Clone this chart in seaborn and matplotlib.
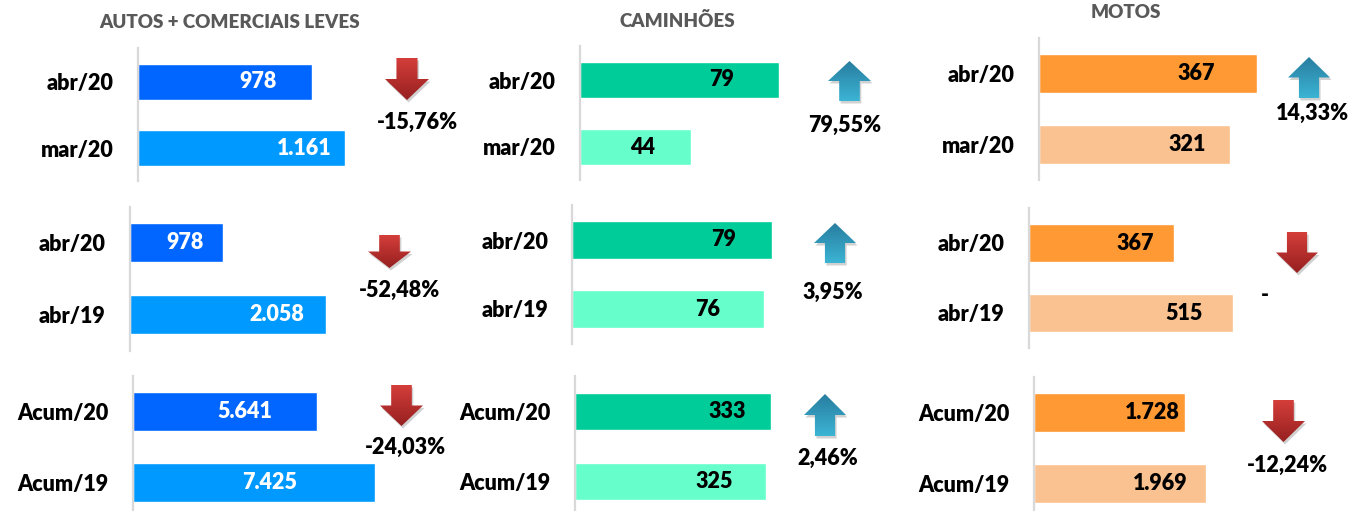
import matplotlib
matplotlib.use("Agg")
import matplotlib.pyplot as plt
import numpy as np
import pandas as pd
import seaborn as sns
from matplotlib.patches import Polygon

# ---------------- data ----------------
groups = ["AUTOS + COMERCIAIS LEVES", "CAMINHÕES", "MOTOS"]
row_labels = [["abr/20", "mar/20"], ["abr/20", "abr/19"], ["Acum/20", "Acum/19"]]
autos_vals = [[978, 1161], [978, 2058], [5641, 7425]]
caminhoes_vals = [[79, 44], [79, 76], [333, 325]]
motos_vals = [[367, 321], [367, 515], [1728, 1969]]
autos_pct = ["-15,76%", "-52,48%", "-24,03%"]
caminhoes_pct = ["79,55%", "3,95%", "2,46%"]
motos_pct = ["14,33%", "-", "-12,24%"]

values = [autos_vals, caminhoes_vals, motos_vals]
pcts = [autos_pct, caminhoes_pct, motos_pct]

# ---------------- style / layout ----------------
W, H = 1351, 511
FONT = ["Lato", "DejaVu Sans"]
WEIGHT = 800
palettes = [["#0066FF", "#0099FF"], ["#00CC99", "#66FFCC"], ["#FF9933", "#F9C290"]]
value_colors = ["white", "black", "black"]

# panel rect in pixels: left(axis line), top, right(end of longest bar), bottom  [row][col]
panel_px = [
    [(137.5, 48.3, 345, 181.3), (579.5, 46.5, 779, 180.5), (1038.5, 38, 1257, 180)],
    [(129.5, 206.5, 326, 350.5), (572, 205.5, 772, 343.5), (1028.5, 208, 1233, 348)],
    [(132.5, 376, 375, 518), (574.5, 376.5, 771, 516.5), (1033.5, 377, 1206, 519)],
]
# distance (px) from bar end to value-label centre
label_off = [
    [(54, 41), (57, 48), (61, 42)],
    [(38, 49), (48, 57), (39, 49)],
    [(72, 105), (44, 52), (33, 46)],
]
# arrow: centre x, top y, width, height ; percentage text centre
arrow_px = [
    [(407, 58, 44, 42), (849.5, 61, 43, 40), (1309, 57, 42, 41)],
    [(389.5, 235, 43, 33), (835, 223, 42, 40), (1297, 232, 42, 41)],
    [(401.5, 385, 43, 41), (825, 394, 42, 42), (1283.5, 400, 43, 42)],
]
pct_px = [
    [(417, 122), (845, 125), (1312, 113)],
    [(400, 290), (833, 292), (1265, 295)],
    [(405, 447), (828, 458), (1287, 465)],
]
title_px = [(230, 23), (677, 21), (1126, 12)]

sns.set_theme(style="white")
plt.rcParams["font.family"] = FONT

fig = plt.figure(figsize=(W / 100, H / 100), dpi=100)
PX = 72 / 100  # points per pixel

for r in range(3):
    for c in range(3):
        l, t, rr, b = panel_px[r][c]
        ax = fig.add_axes([l / W, 1 - b / H, (rr - l) / W, (b - t) / H])
        vals = values[c][r]
        labs = row_labels[r]
        df = pd.DataFrame({"cat": labs, "val": vals})
        sns.barplot(data=df, x="val", y="cat", hue="cat", palette=palettes[c],
                    orient="h", width=0.54, legend=False, ax=ax, saturation=1)
        ax.set_xlim(0, max(vals))
        ax.set_ylim(1.5, -0.5)
        ax.set_xlabel("")
        ax.set_ylabel("")
        ax.set_xticks([])
        ax.patch.set_alpha(0)
        for s in ["top", "right", "bottom"]:
            ax.spines[s].set_visible(False)
        ax.spines["left"].set_color("#D9D9D9")
        ax.spines["left"].set_linewidth(1.6)
        ax.tick_params(axis="y", length=0, pad=24 * PX)
        for tl in ax.get_yticklabels():
            tl.set_fontsize(15.5)
            tl.set_fontweight(WEIGHT)
            tl.set_color("black")
        # value labels
        px_per_unit = (rr - l) / max(vals)
        for i, v in enumerate(vals):
            x = v - label_off[r][c][i] / px_per_unit
            ax.text(x, i, f"{v:,}".replace(",", "."), ha="center", va="center",
                    fontsize=15.5, fontweight=WEIGHT, color=value_colors[c])

# overlay for arrows, percentages, titles
ov = fig.add_axes([0, 0, 1, 1], zorder=10)
ov.set_xlim(0, W)
ov.set_ylim(H, 0)
ov.axis("off")
ov.patch.set_alpha(0)


def draw_arrow(ax, cx, top, w, h, up):
    sw = w * 0.48
    hl = h * 0.5
    if up:
        pts = [(cx, top), (cx + w / 2, top + hl), (cx + sw / 2, top + hl), (cx + sw / 2, top + h),
               (cx - sw / 2, top + h), (cx - sw / 2, top + hl), (cx - w / 2, top + hl)]
        c_top, c_bot = np.array([40, 125, 160]), np.array([60, 180, 212])
    else:
        pts = [(cx - sw / 2, top), (cx + sw / 2, top), (cx + sw / 2, top + h - hl), (cx + w / 2, top + h - hl),
               (cx, top + h), (cx - w / 2, top + h - hl), (cx - sw / 2, top + h - hl)]
        c_top, c_bot = np.array([212, 62, 58]), np.array([150, 32, 32])
    sh = Polygon([(x + 1.5, y + 2.5) for x, y in pts], closed=True, fc="#000000",
                 alpha=0.18, ec="none")
    ax.add_patch(sh)
    poly = Polygon(pts, closed=True, fc="none", ec="none")
    ax.add_patch(poly)
    n = 64
    t = np.linspace(0, 1, n)[:, None]
    grad = (c_top[None, :] * (1 - t) + c_bot[None, :] * t) / 255.0
    img = np.repeat(grad[:, None, :], 2, axis=1)
    im = ax.imshow(img, extent=(cx - w / 2, cx + w / 2, top + h, top), aspect="auto",
                   interpolation="bilinear", zorder=2)
    im.set_clip_path(poly)


for r in range(3):
    for c in range(3):
        v = values[c][r]
        up = v[0] > v[1]
        cx, top, w, h = arrow_px[r][c]
        draw_arrow(ov, cx, top, w, h, up)
        tx, ty = pct_px[r][c]
        ov.text(tx, ty, pcts[c][r], ha="center", va="center", fontsize=15.5,
                fontweight=WEIGHT, color="black")

for c in range(3):
    tx, ty = title_px[c]
    ov.text(tx, ty, groups[c], ha="center", va="center", fontsize=13.5,
            fontweight=WEIGHT, color="#595959")

ov.set_xlim(0, W)
ov.set_ylim(H, 0)

fig.savefig("out.png", dpi=100)
